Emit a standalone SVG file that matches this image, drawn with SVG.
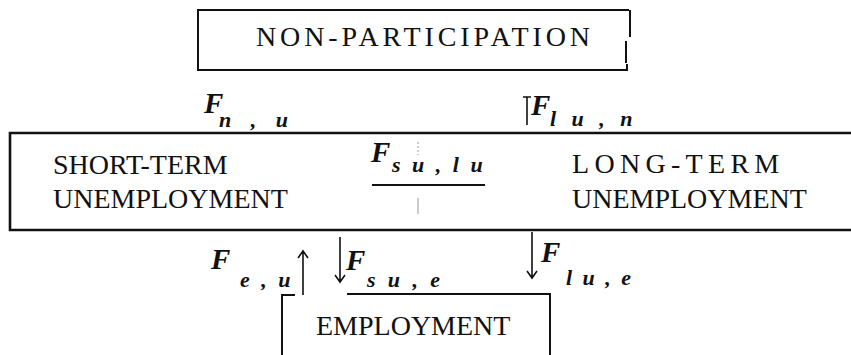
<svg xmlns="http://www.w3.org/2000/svg" width="851" height="355" viewBox="0 0 851 355">
<style>
.lbl{font-family:"Liberation Serif","Times New Roman",serif;font-size:28px;fill:#111}
.F{font-family:"Liberation Serif","Times New Roman",serif;font-size:29px;font-weight:bold;font-style:italic;fill:#111}
.sub{font-family:"Liberation Serif","Times New Roman",serif;font-size:22px;font-weight:bold;font-style:italic;fill:#111}
.box{fill:none;stroke:#111;stroke-width:2}
.thick{fill:none;stroke:#111;stroke-width:2.6}
.arr{fill:none;stroke:#111;stroke-width:1.6}
.tick{fill:none;stroke:#999;stroke-width:1}
</style>
<rect width="851" height="355" fill="#fff"/>
<g id="non-participation">
<path class="box" d="M629,10 H198 V70 H627 V64"/>
<path class="box" d="M630,10 V37 M626,41 V63"/>
<text class="lbl" x="256" y="46" letter-spacing="3.9">NON-PARTICIPATION</text>
</g>
<g id="unemployment">
<path class="thick" d="M851,133 H10 V230 H851"/>
<text class="lbl" x="53" y="174">SHORT-TERM</text>
<text class="lbl" x="53" y="208">UNEMPLOYMENT</text>
<text class="lbl" x="572" y="173" font-size="23" letter-spacing="5.3">LONG-TERM</text>
<text class="lbl" x="572" y="208">UNEMPLOYMENT</text>
</g>
<g id="employment">
<path class="box" d="M282,355 V295 H295 M347,294 H550 V355"/>
<text class="lbl" x="316" y="335" font-size="29">EMPLOYMENT</text>
</g>
<g id="connectors">
<path class="arr" d="M527,125 V97 M523,97 H531"/>
<path class="arr" d="M303,295 V251 M298,258 L303,251 L308,258"/>
<path class="arr" d="M340,237 V282 M335,275 L340,282 L345,275"/>
<path class="arr" d="M532,232 V278 M527,271 L532,278 L537,271"/>
<path d="M372,185 H485" stroke="#111" stroke-width="2"/>
<path class="tick" d="M418,198 V214"/>
<path class="tick" d="M418,142 V155" stroke-dasharray="2,2"/>
</g>
<g id="labels">
<text class="F" x="204" y="113">F</text><text class="sub" x="219" y="127" letter-spacing="7">n , u</text>
<text class="F" x="531" y="115">F</text><text class="sub" x="550" y="126" letter-spacing="5">l u , n</text>
<text class="F" x="371" y="162">F</text><text class="sub" x="392" y="172" letter-spacing="3">s u , l u</text>
<text class="F" x="211" y="269">F</text><text class="sub" x="240" y="287" letter-spacing="3">e , u</text>
<text class="F" x="346" y="270">F</text><text class="sub" x="367" y="287" letter-spacing="3.4">s u , e</text>
<text class="F" x="541" y="262">F</text><text class="sub" x="566" y="285" letter-spacing="2.5">l u , e</text>
</g>
</svg>
